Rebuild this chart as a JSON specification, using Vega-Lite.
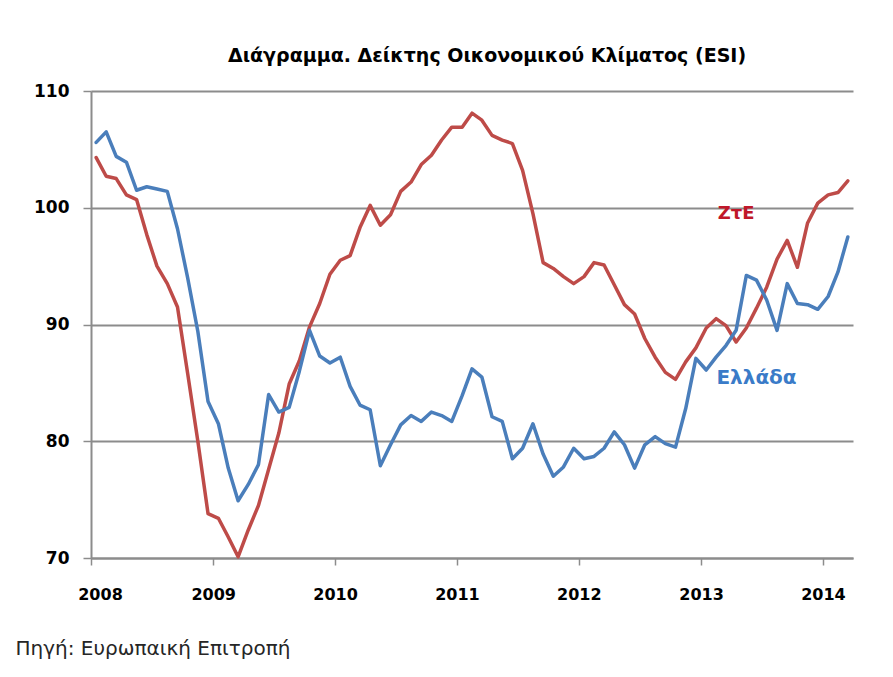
{
  "$schema": "https://vega.github.io/schema/vega-lite/v6.json",
  "width": 762,
  "height": 467,
  "autosize": "none",
  "padding": {"left": 91, "top": 91, "right": 40, "bottom": 119},
  "background": "white",
  "config": {"view": {"stroke": null}},
  "title": {
    "text": "Διάγραμμα.  Δείκτης Οικονομικού Κλίματος (ESI)",
    "font": "DejaVu Sans",
    "fontSize": 19,
    "fontWeight": "bold",
    "color": "#000000",
    "anchor": "middle",
    "dx": 15,
    "offset": 16
  },
  "data": {
    "values": [
      {"month": "2008-01", "eurozone": 104.3, "greece": 105.6},
      {"month": "2008-02", "eurozone": 102.7, "greece": 106.5},
      {"month": "2008-03", "eurozone": 102.5, "greece": 104.4},
      {"month": "2008-04", "eurozone": 101.1, "greece": 103.9},
      {"month": "2008-05", "eurozone": 100.7, "greece": 101.5},
      {"month": "2008-06", "eurozone": 97.7, "greece": 101.8},
      {"month": "2008-07", "eurozone": 95.0, "greece": 101.6},
      {"month": "2008-08", "eurozone": 93.5, "greece": 101.4},
      {"month": "2008-09", "eurozone": 91.5, "greece": 98.2},
      {"month": "2008-10", "eurozone": 85.8, "greece": 94.0},
      {"month": "2008-11", "eurozone": 80.0, "greece": 89.4},
      {"month": "2008-12", "eurozone": 73.8, "greece": 83.4},
      {"month": "2009-01", "eurozone": 73.4, "greece": 81.5},
      {"month": "2009-02", "eurozone": 71.8, "greece": 77.7},
      {"month": "2009-03", "eurozone": 70.1, "greece": 74.9},
      {"month": "2009-04", "eurozone": 72.4, "greece": 76.3},
      {"month": "2009-05", "eurozone": 74.5, "greece": 78.0},
      {"month": "2009-06", "eurozone": 77.6, "greece": 84.0},
      {"month": "2009-07", "eurozone": 80.7, "greece": 82.5},
      {"month": "2009-08", "eurozone": 84.9, "greece": 82.9},
      {"month": "2009-09", "eurozone": 86.9, "greece": 86.0},
      {"month": "2009-10", "eurozone": 89.8, "greece": 89.5},
      {"month": "2009-11", "eurozone": 91.8, "greece": 87.3},
      {"month": "2009-12", "eurozone": 94.3, "greece": 86.7},
      {"month": "2010-01", "eurozone": 95.5, "greece": 87.2},
      {"month": "2010-02", "eurozone": 95.9, "greece": 84.7},
      {"month": "2010-03", "eurozone": 98.3, "greece": 83.1},
      {"month": "2010-04", "eurozone": 100.2, "greece": 82.7},
      {"month": "2010-05", "eurozone": 98.5, "greece": 77.9},
      {"month": "2010-06", "eurozone": 99.4, "greece": 79.7},
      {"month": "2010-07", "eurozone": 101.4, "greece": 81.4},
      {"month": "2010-08", "eurozone": 102.2, "greece": 82.2},
      {"month": "2010-09", "eurozone": 103.7, "greece": 81.7},
      {"month": "2010-10", "eurozone": 104.5, "greece": 82.5},
      {"month": "2010-11", "eurozone": 105.8, "greece": 82.2},
      {"month": "2010-12", "eurozone": 106.9, "greece": 81.7},
      {"month": "2011-01", "eurozone": 106.9, "greece": 83.9},
      {"month": "2011-02", "eurozone": 108.1, "greece": 86.2},
      {"month": "2011-03", "eurozone": 107.5, "greece": 85.5},
      {"month": "2011-04", "eurozone": 106.2, "greece": 82.1},
      {"month": "2011-05", "eurozone": 105.8, "greece": 81.7},
      {"month": "2011-06", "eurozone": 105.5, "greece": 78.5},
      {"month": "2011-07", "eurozone": 103.2, "greece": 79.4},
      {"month": "2011-08", "eurozone": 99.5, "greece": 81.5},
      {"month": "2011-09", "eurozone": 95.3, "greece": 78.9},
      {"month": "2011-10", "eurozone": 94.8, "greece": 77.0},
      {"month": "2011-11", "eurozone": 94.1, "greece": 77.8},
      {"month": "2011-12", "eurozone": 93.5, "greece": 79.4},
      {"month": "2012-01", "eurozone": 94.1, "greece": 78.5},
      {"month": "2012-02", "eurozone": 95.3, "greece": 78.7},
      {"month": "2012-03", "eurozone": 95.1, "greece": 79.4},
      {"month": "2012-04", "eurozone": 93.4, "greece": 80.8},
      {"month": "2012-05", "eurozone": 91.7, "greece": 79.7},
      {"month": "2012-06", "eurozone": 90.9, "greece": 77.7},
      {"month": "2012-07", "eurozone": 88.8, "greece": 79.7},
      {"month": "2012-08", "eurozone": 87.2, "greece": 80.4},
      {"month": "2012-09", "eurozone": 85.9, "greece": 79.8},
      {"month": "2012-10", "eurozone": 85.3, "greece": 79.5},
      {"month": "2012-11", "eurozone": 86.8, "greece": 82.8},
      {"month": "2012-12", "eurozone": 88.0, "greece": 87.1},
      {"month": "2013-01", "eurozone": 89.7, "greece": 86.1},
      {"month": "2013-02", "eurozone": 90.5, "greece": 87.2},
      {"month": "2013-03", "eurozone": 89.9, "greece": 88.2},
      {"month": "2013-04", "eurozone": 88.5, "greece": 89.5},
      {"month": "2013-05", "eurozone": 89.7, "greece": 94.2},
      {"month": "2013-06", "eurozone": 91.4, "greece": 93.8},
      {"month": "2013-07", "eurozone": 93.2, "greece": 92.1},
      {"month": "2013-08", "eurozone": 95.6, "greece": 89.5},
      {"month": "2013-09", "eurozone": 97.2, "greece": 93.5},
      {"month": "2013-10", "eurozone": 94.9, "greece": 91.8},
      {"month": "2013-11", "eurozone": 98.7, "greece": 91.7},
      {"month": "2013-12", "eurozone": 100.4, "greece": 91.3},
      {"month": "2014-01", "eurozone": 101.1, "greece": 92.4},
      {"month": "2014-02", "eurozone": 101.3, "greece": 94.5},
      {"month": "2014-03", "eurozone": 102.3, "greece": 97.5}
    ]
  },
  "layer": [
    {
      "transform": [{"fold": ["eurozone", "greece"], "as": ["series", "value"]}],
      "mark": {"type": "line", "strokeWidth": 3.5, "strokeJoin": "round", "strokeCap": "round"},
      "encoding": {
        "x": {
          "field": "month",
          "type": "temporal",
          "timeUnit": "utcyearmonth",
          "bandPosition": 0.5,
          "scale": {
            "type": "utc",
            "domain": [
              {"year": 2008, "month": 1, "date": 1, "utc": true},
              {"year": 2014, "month": 4, "date": 1, "utc": true}
            ]
          },
          "axis": {
            "values": [
              {"year": 2008, "month": 1, "date": 1, "utc": true},
              {"year": 2009, "month": 1, "date": 1, "utc": true},
              {"year": 2010, "month": 1, "date": 1, "utc": true},
              {"year": 2011, "month": 1, "date": 1, "utc": true},
              {"year": 2012, "month": 1, "date": 1, "utc": true},
              {"year": 2013, "month": 1, "date": 1, "utc": true},
              {"year": 2014, "month": 1, "date": 1, "utc": true}
            ],
            "format": "%Y",
            "grid": false,
            "domain": true,
            "domainColor": "#8C8C8C",
            "domainWidth": 2,
            "ticks": true,
            "tickColor": "#8C8C8C",
            "tickWidth": 1.5,
            "tickSize": 7,
            "labelFont": "DejaVu Sans",
            "labelFontSize": 16,
            "labelFontWeight": "bold",
            "labelColor": "#000000",
            "labelPadding": 21,
            "labelOffset": {"condition": {"test": "utcyear(datum.value) === 2008", "value": 9}, "value": 0},
            "labelFlush": false,
            "labelOverlap": false,
            "title": "Πηγή: Ευρωπαική  Επιτροπή",
            "titleFont": "DejaVu Sans",
            "titleFontSize": 20,
            "titleFontWeight": "normal",
            "titleColor": "#262626",
            "titleAlign": "left",
            "titleBaseline": "middle",
            "titleX": -76,
            "titleY": 90
          }
        },
        "y": {
          "field": "value",
          "type": "quantitative",
          "scale": {"domain": [70, 110], "zero": false, "nice": false},
          "axis": {
            "values": [70, 80, 90, 100, 110],
            "grid": true,
            "gridColor": "#8C8C8C",
            "gridWidth": 2,
            "domain": true,
            "domainColor": "#8C8C8C",
            "domainWidth": 2,
            "ticks": true,
            "tickColor": "#8C8C8C",
            "tickWidth": 1.5,
            "tickSize": 8,
            "labelFont": "DejaVu Sans",
            "labelFontSize": 17,
            "labelFontWeight": "bold",
            "labelColor": "#000000",
            "labelPadding": 14,
            "title": null
          }
        },
        "color": {
          "field": "series",
          "type": "nominal",
          "scale": {"domain": ["eurozone", "greece"], "range": ["#BE4B48", "#4A7EBB"]},
          "legend": null
        }
      }
    },
    {
      "data": {"values": [{"label": "ΖτΕ", "month": "2013-04", "value": 99.5}]},
      "mark": {"type": "text", "font": "DejaVu Sans", "fontSize": 18, "fontWeight": "bold", "color": "#C0182A", "align": "center", "baseline": "middle"},
      "encoding": {
        "x": {"field": "month", "type": "temporal", "timeUnit": "utcyearmonth", "bandPosition": 0.5},
        "y": {"field": "value", "type": "quantitative"},
        "text": {"field": "label"}
      }
    },
    {
      "data": {"values": [{"label": "Ελλάδα", "month": "2013-06", "value": 85.4}]},
      "mark": {"type": "text", "font": "DejaVu Sans", "fontSize": 20, "fontWeight": "bold", "color": "#3A7BC8", "align": "center", "baseline": "middle"},
      "encoding": {
        "x": {"field": "month", "type": "temporal", "timeUnit": "utcyearmonth", "bandPosition": 0.5},
        "y": {"field": "value", "type": "quantitative"},
        "text": {"field": "label"}
      }
    }
  ]
}
